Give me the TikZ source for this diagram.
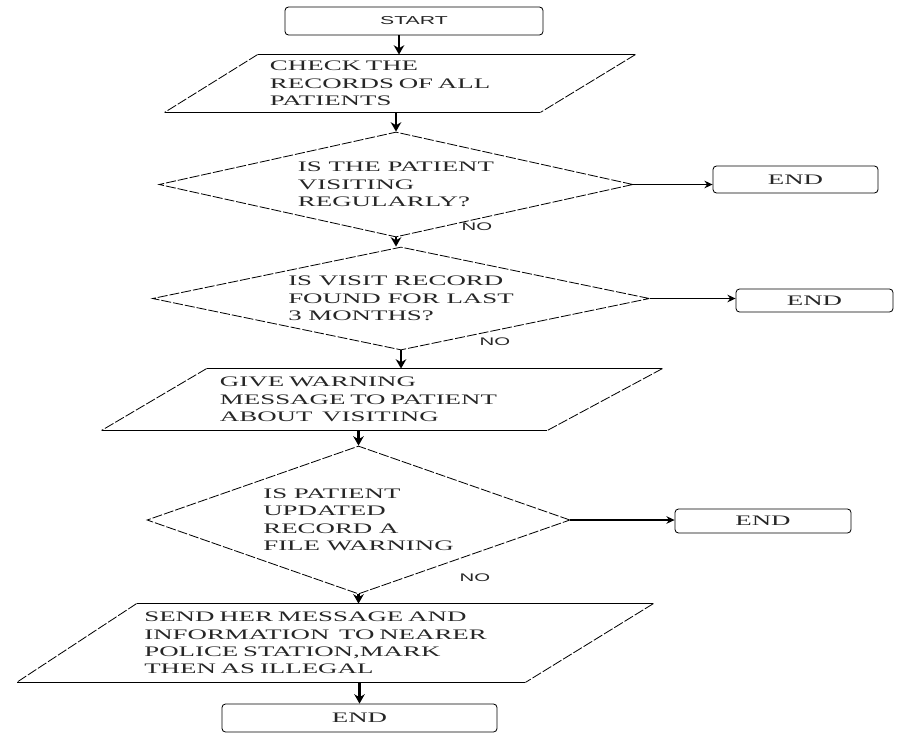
\documentclass[tikz,border=0pt]{standalone}
\usepackage{fontspec}
\setmainfont{Liberation Serif}[FakeStretch=1.85]
\newfontfamily\tagfont{Liberation Sans}[FakeStretch=1.85]
\usetikzlibrary{shapes.geometric, arrows, arrows.meta}
\usetikzlibrary{calc}
\tikzset{
every picture/.style={line width=0.7pt, >=stealth},
%%%%%%%%%%  Node styles
terminal/.style={draw, rectangle, rounded corners=3pt, inner sep=0pt,
                 text=black!85, font=\fontsize{12.4}{14.9}\selectfont},
decision/.style={draw, diamond, inner sep=0pt, slant, align=left,
                 text=black!85, font=\fontsize{12.4}{14.9}\selectfont},
iobody/.style={rectangle, inner ysep=0pt, align=left,
               text=black!85, font=\fontsize{12.4}{14.9}\selectfont},
notag/.style={inner sep=0pt, text=black!85,
              font=\tagfont\fontsize{9.4}{11}\selectfont},
%%%% different line styles:
slant/.style={dash pattern=on 3mm off 0.6mm},
flow/.style={-{Stealth[length=8pt,width=9pt]}, line width=2.2pt},
sideflow/.style={-{Stealth[length=7pt,width=6.5pt]}, line width=1.4pt}
}
%% outline of an input/output box round a body node
\newcommand{\slantbox}[3]{%
  \draw (#1.north west) -- ($(#1.north east)+(#2,0)$);
  \draw (#1.south east) -- ($(#1.south west)+(-#3,0)$);
  \draw[slant] ($(#1.north east)+(#2,0)$) -- (#1.south east);
  \draw[slant] (#1.north west) -- ($(#1.south west)+(-#3,0)$);
}
\begin{document}
\begin{tikzpicture}[x=0.03cm,y=-0.03cm]
\useasboundingbox (0,0) rectangle (907,734);
%% start and records
\node[terminal, font=\tagfont\fontsize{9.8}{11}\selectfont,
      minimum width=7.74cm, minimum height=0.84cm] (start) at (414,21) {START};
\node[iobody, minimum width=8.46cm, minimum height=1.71cm,
      inner xsep=0.36cm, text width=7.74cm] (check) at (399,83.5)
      {CHECK THE\\RECORDS OF ALL\\PATIENTS};
\slantbox{check}{95}{93}
%% first decision
\node[decision, minimum width=14.22cm, minimum height=3.15cm, aspect=4.51]
      (regular) at (396,184.5) {IS THE PATIENT\\VISITING\\REGULARLY?};
\node[terminal, minimum width=4.95cm, minimum height=0.81cm] (endA) at (795.5,179.5) {END};
\node[notag] (noA) at (477,227) {NO};
%% second decision
\node[decision, minimum width=14.91cm, minimum height=3.09cm, aspect=4.83]
      (visit) at (401,298.5) {IS VISIT RECORD\\FOUND FOR LAST\\3 MONTHS?};
\node[terminal, minimum width=4.71cm, minimum height=0.69cm] (endB) at (814.5,300.5) {END};
\node[notag] (noB) at (495,342) {NO};
%% warning
\node[iobody, minimum width=10.2cm, minimum height=1.83cm,
      inner xsep=0.39cm, text width=9.42cm] (warn) at (377,399.5)
      {GIVE WARNING\\MESSAGE TO PATIENT\\ABOUT\ \ VISITING};
\slantbox{warn}{115}{105}
%% third decision
\node[decision, minimum width=12.69cm, minimum height=4.44cm, aspect=2.86]
      (update) at (358.5,520) {IS PATIENT\\UPDATED\\RECORD A\\FILE WARNING};
\node[terminal, minimum width=5.28cm, minimum height=0.72cm] (endC) at (763,521) {END};
\node[notag] (noC) at (475,578) {NO};
%% police
\node[iobody, minimum width=11.64cm, minimum height=2.34cm,
      inner xsep=0.22cm, text width=11.2cm] (police) at (331,643)
      {SEND HER MESSAGE AND\\INFORMATION\ \ TO NEARER\\POLICE STATION,MARK\\THEN AS ILLEGAL};
\slantbox{police}{128}{120}
\node[terminal, minimum width=8.25cm, minimum height=0.84cm] (endD) at (359.5,718) {END};
%% arrows down
\draw[flow] (start.south -| check.north) -- (check.north);
\draw[flow] (check.south -| regular.north) -- (regular.north);
\draw[flow] (regular.south) -- (regular.south |- visit.north);
\draw[flow] (visit.south) -- (visit.south |- warn.north);
\draw[flow] (warn.south -| update.north) -- (update.north);
\draw[flow] (update.south) -- (update.south |- police.north);
\draw[flow] (police.south -| endD.north) -- (endD.north);
%% arrows to the right
\draw[sideflow] (regular.east) -- (regular.east -| endA.west);
\draw[sideflow] (visit.east) -- (visit.east -| endB.west);
\draw[sideflow] (update.east) -- (update.east -| endC.west);
\end{tikzpicture}
\end{document}
